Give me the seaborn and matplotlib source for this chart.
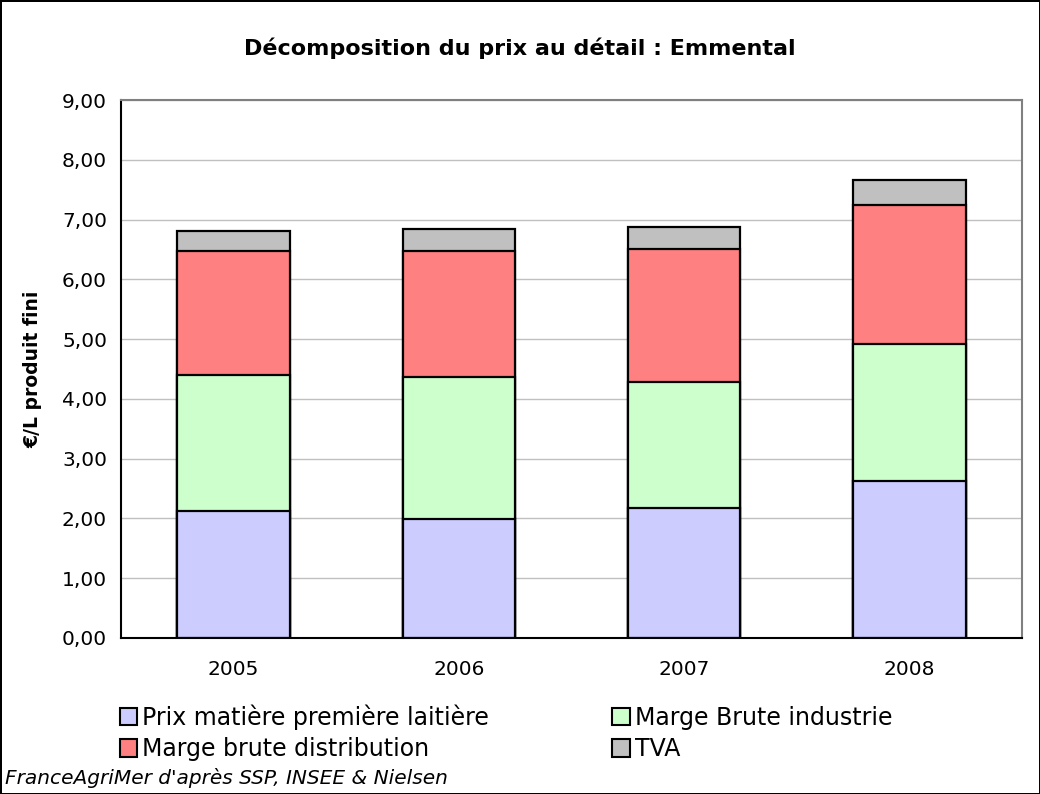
import numpy as np
import pandas as pd
import matplotlib
matplotlib.use('Agg')
import matplotlib.pyplot as plt
from matplotlib.patches import Patch
import seaborn as sns

# 数据（€/L produit fini）
annees = ['2005', '2006', '2007', '2008']
prix_matiere = [2.13, 1.99, 2.18, 2.62]
marge_industrie = [2.27, 2.38, 2.11, 2.30]
marge_distribution = [2.07, 2.11, 2.22, 2.33]
tva = [0.34, 0.37, 0.37, 0.42]

series_noms = ['Prix matière première laitière', 'Marge Brute industrie',
               'Marge brute distribution', 'TVA']
couleurs = ['#CCCCFF', '#CCFFCC', '#FF8080', '#C0C0C0']

sns.set_style('white')
plt.rcParams['font.family'] = ['DejaVu Sans']
plt.rcParams['text.color'] = 'black'
plt.rcParams['axes.labelcolor'] = 'black'
plt.rcParams['xtick.color'] = 'black'
plt.rcParams['ytick.color'] = 'black'

# cumul pour empiler les barres
valeurs = np.array([prix_matiere, marge_industrie, marge_distribution, tva])
cumul = np.cumsum(valeurs, axis=0)

fig = plt.figure(figsize=(10.4, 7.94), dpi=100)
fig.patch.set_edgecolor('black')
fig.patch.set_linewidth(2)
ax = fig.add_axes([0.1163, 0.1965, 0.8664, 0.6775])

# on dessine du plus haut au plus bas
for i in range(len(series_noms) - 1, -1, -1):
    df = pd.DataFrame({'annee': annees, 'valeur': cumul[i]})
    sns.barplot(data=df, x='annee', y='valeur', color=couleurs[i], saturation=1,
                edgecolor='black', linewidth=1.6, width=0.5, errorbar=None, ax=ax)

ax.set_xlim(-0.5, len(annees) - 0.5)
ax.set_ylim(0, 9)
ax.set_yticks(np.arange(0, 10, 1))
ax.set_yticklabels([f'{v:.2f}'.replace('.', ',') for v in np.arange(0, 10, 1)])
ax.set_xticks(np.arange(-0.5, len(annees), 1), minor=True)
ax.tick_params(axis='x', which='major', length=0, labelsize=14.5, pad=16)
ax.tick_params(axis='x', which='minor', length=6, width=1, color='black', direction='out')
ax.tick_params(axis='y', length=6, width=1, color='black', direction='out', labelsize=14.5, pad=4)
ax.yaxis.grid(True, color='#C0C0C0', linewidth=1)
ax.set_axisbelow(True)

for s in ['top', 'right']:
    ax.spines[s].set_color('#808080')
    ax.spines[s].set_linewidth(1.5)
for s in ['left', 'bottom']:
    ax.spines[s].set_color('black')
    ax.spines[s].set_linewidth(1.5)

ax.set_xlabel('')
ax.set_ylabel('€/L produit fini', fontsize=13.5, fontweight='bold', labelpad=14)

fig.text(0.5, 0.939, 'Décomposition du prix au détail : Emmental', ha='center', va='center',
         fontsize=16, fontweight='bold')

handles = [Patch(facecolor=c, edgecolor='black', linewidth=1.5) for c in couleurs]
ordre = [0, 2, 1, 3]
fig.legend([handles[k] for k in ordre], [series_noms[k] for k in ordre], ncol=2,
           loc='upper left', bbox_to_anchor=(0.115, 0.113), frameon=False,
           fontsize=17, handlelength=0.75, handleheight=0.75, handletextpad=0.2,
           labelspacing=0.32, columnspacing=5.23, borderaxespad=0, borderpad=0)

fig.text(0.005, 0.02, "FranceAgriMer d'après SSP, INSEE & Nielsen", ha='left', va='center',
         fontsize=14.5, style='italic')

fig.savefig('out.png', dpi=100, edgecolor=fig.get_edgecolor())
